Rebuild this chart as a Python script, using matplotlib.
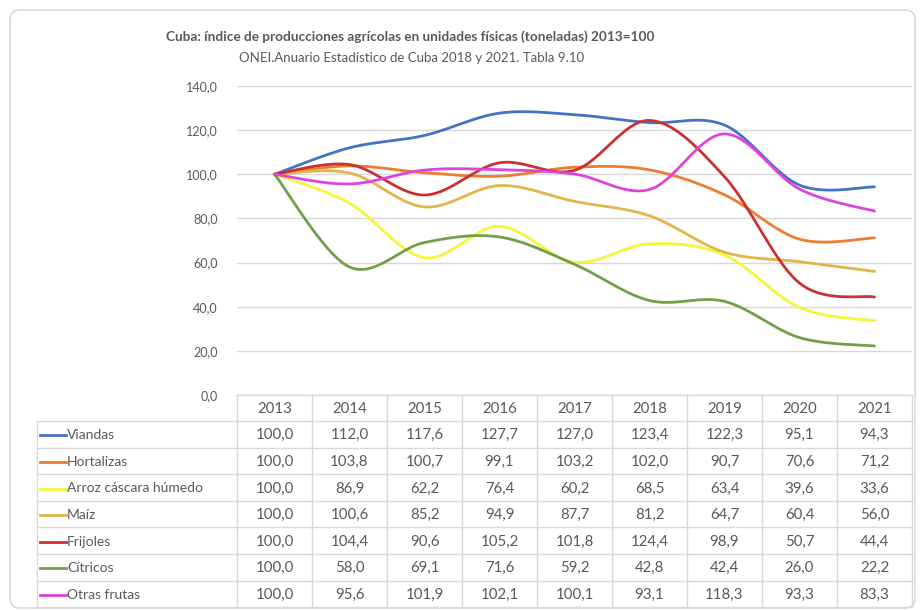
import matplotlib.pyplot as plt
import numpy as np
from matplotlib.patches import FancyBboxPatch

plt.rcParams['font.family'] = ['Lato', 'DejaVu Sans']

years = ['2013', '2014', '2015', '2016', '2017', '2018', '2019', '2020', '2021']

viandas = [100.0, 112.0, 117.6, 127.7, 127.0, 123.4, 122.3, 95.1, 94.3]
hortalizas = [100.0, 103.8, 100.7, 99.1, 103.2, 102.0, 90.7, 70.6, 71.2]
arroz = [100.0, 86.9, 62.2, 76.4, 60.2, 68.5, 63.4, 39.6, 33.6]
maiz = [100.0, 100.6, 85.2, 94.9, 87.7, 81.2, 64.7, 60.4, 56.0]
frijoles = [100.0, 104.4, 90.6, 105.2, 101.8, 124.4, 98.9, 50.7, 44.4]
citricos = [100.0, 58.0, 69.1, 71.6, 59.2, 42.8, 42.4, 26.0, 22.2]
otras_frutas = [100.0, 95.6, 101.9, 102.1, 100.1, 93.1, 118.3, 93.3, 83.3]

series_names = ['Viandas', 'Hortalizas', 'Arroz cáscara húmedo', 'Maíz',
                'Frijoles', 'Cítricos', 'Otras frutas']
series_vals = [viandas, hortalizas, arroz, maiz, frijoles, citricos, otras_frutas]
colores = ['#4472C4', '#ED7D31', '#F5F53A', '#E2B54A',
           '#CC3030', '#70A048', '#DD44DD']

gris_txt = '#595959'
gris_linea = '#D9D9D9'


def suavizar(xs, ys, n=30):
    # curva tipo Excel (Bezier / Catmull-Rom)
    pts = np.column_stack([xs, ys]).astype(float)
    out = []
    for i in range(len(pts) - 1):
        p0 = pts[i - 1] if i > 0 else pts[i]
        p1 = pts[i]
        p2 = pts[i + 1]
        p3 = pts[i + 2] if i + 2 < len(pts) else pts[i + 1]
        c1 = p1 + (p2 - p0) / 6
        c2 = p2 - (p3 - p1) / 6
        t = np.linspace(0, 1, n)[:, None]
        seg = (1 - t)**3 * p1 + 3 * (1 - t)**2 * t * c1 + 3 * (1 - t) * t**2 * c2 + t**3 * p2
        out.append(seg if i == 0 else seg[1:])
    return np.vstack(out)


W, H = 921, 610
fig = plt.figure(figsize=(W / 100, H / 100), dpi=100)

# capa de fondo en pixeles: borde, titulos, tabla
ov = fig.add_axes([0, 0, 1, 1])
ov.set_xlim(0, W)
ov.set_ylim(H, 0)
ov.axis('off')

ov.add_patch(FancyBboxPatch((10, 10), 905, 598, boxstyle='round,pad=0,rounding_size=10',
                            fc='white', ec=gris_linea, lw=1.2))

ov.text(410, 37, 'Cuba: índice de producciones agrícolas en unidades físicas (toneladas) 2013=100',
        ha='center', va='center', fontsize=9.8, fontweight='bold', color=gris_txt)
ov.text(412, 58, 'ONEI.Anuario Estadístico de Cuba 2018 y 2021. Tabla 9.10',
        ha='center', va='center', fontsize=9.5, color=gris_txt)

# tabla de datos
x0, cw = 237, 75
top, h_head = 395, 26
rh = 26.6
lab_x = 37
ncol = len(years)
x_end = x0 + cw * ncol
y_end = top + h_head + rh * len(series_names)

ov.plot([x0, x_end], [top, top], color=gris_linea, lw=1)
for k in range(len(series_names) + 1):
    yy = top + h_head + k * rh
    ov.plot([lab_x, x_end], [yy, yy], color=gris_linea, lw=1)
ov.plot([lab_x, lab_x], [top + h_head, y_end], color=gris_linea, lw=1)
for j in range(ncol + 1):
    xx = x0 + j * cw
    ov.plot([xx, xx], [top, y_end], color=gris_linea, lw=1)

for j, yr in enumerate(years):
    ov.text(x0 + (j + 0.5) * cw, top + h_head / 2 + 1, yr, ha='center', va='center',
            fontsize=10.8, color=gris_txt)

for i, (nom, vals, col) in enumerate(zip(series_names, series_vals, colores)):
    yc = top + h_head + (i + 0.5) * rh + 1
    ov.plot([40, 66], [yc, yc], color=col, lw=2)
    ov.text(67, yc, nom, ha='left', va='center', fontsize=10, color=gris_txt)
    for j, v in enumerate(vals):
        ov.text(x0 + (j + 0.5) * cw, yc, f'{v:.1f}'.replace('.', ','), ha='center',
                va='center', fontsize=10.8, color=gris_txt)

# grafico de lineas
ax = fig.add_axes([x0 / W, 1 - top / H, (x_end - x0) / W, (top - 86) / H])
ax.patch.set_alpha(0)
ax.set_xlim(-0.5, ncol - 0.5)
ax.set_ylim(0, 140)
ax.set_yticks(np.arange(0, 141, 20))
ax.set_yticklabels([f'{v:.1f}'.replace('.', ',') for v in np.arange(0, 141, 20)])
ax.set_xticks([])
ax.tick_params(axis='y', length=0, pad=14, labelsize=9, labelcolor=gris_txt)
ax.grid(axis='y', color=gris_linea, lw=1)
ax.set_axisbelow(True)
for s in ax.spines.values():
    s.set_visible(False)

xs = np.arange(ncol)
for vals, col in zip(series_vals, colores):
    c = suavizar(xs, vals)
    ax.plot(c[:, 0], c[:, 1], color=col, lw=2, solid_capstyle='round')

fig.savefig('out.png', dpi=100)
